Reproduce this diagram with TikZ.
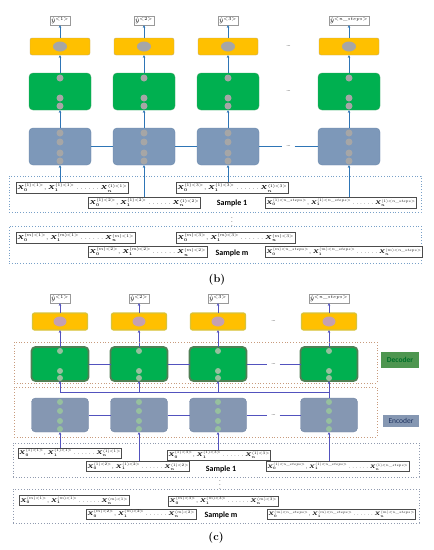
\RequirePackage{fix-cm}
\documentclass[tikz,border=0pt]{standalone}
\usepackage{amsmath,amssymb,bm}
\usepackage{fontspec}
\newfontfamily\carlito{Carlito}
\usetikzlibrary{arrows.meta,positioning,calc}
\definecolor{ygold}{RGB}{255,192,0}
\definecolor{ygoldline}{RGB}{190,170,110}
\definecolor{lgreen}{RGB}{0,176,80}
\definecolor{lgreenline}{RGB}{60,165,100}
\definecolor{lblue}{RGB}{125,152,185}
\definecolor{lblueline}{RGB}{105,135,170}
\definecolor{unitgray}{RGB}{166,166,166}
\definecolor{arrowblue}{RGB}{46,117,182}
\definecolor{sampline}{RGB}{120,160,200}
\definecolor{cyline}{RGB}{215,195,60}
\definecolor{cgreenline}{RGB}{78,128,84}
\definecolor{cblue}{RGB}{133,151,178}
\definecolor{cblueline}{RGB}{115,135,165}
\definecolor{cunit}{RGB}{150,192,158}
\definecolor{cpink}{RGB}{196,160,178}
\definecolor{arrowind}{RGB}{82,82,190}
\definecolor{brownline}{RGB}{200,155,125}
\definecolor{grayline}{RGB}{145,155,175}
\definecolor{declbl}{RGB}{78,150,80}
\definecolor{dectxt}{RGB}{0,110,40}
\definecolor{enctxt}{RGB}{30,50,95}
\newcommand{\xseq}[2]{$\bm{X_0}^{(#1)<#2>},\bm{X_1}^{(#1)<#2>}\ldots\ldots\bm{X_n}^{(#1)<#2>}$}
\tikzset{
  basebox/.style={rectangle,rounded corners=4pt,inner sep=0pt,outer sep=0pt,thin},
  outbox/.style={basebox,rounded corners=2pt,fill=ygold,draw=ygoldline,minimum width=60pt,minimum height=17pt},
  hidbox/.style={basebox,fill=lgreen,draw=lgreenline,minimum width=62pt,minimum height=37pt},
  encbox/.style={basebox,fill=lblue,draw=lblueline,minimum width=62pt,minimum height=37pt},
  outboxc/.style={basebox,rounded corners=2pt,fill=ygold,draw=cyline,line width=1.2pt,minimum width=55pt,minimum height=17pt},
  hidboxc/.style={basebox,fill=lgreen,draw=cgreenline,line width=1.8pt,minimum width=57pt,minimum height=34pt},
  encboxc/.style={basebox,fill=cblue,draw=cblueline,minimum width=57pt,minimum height=34pt},
  yhatlbl/.style={rectangle,draw=gray!80,fill=white,inner sep=1pt,outer sep=0pt,font=\fontsize{6.5}{7}\selectfont},
  xlbl/.style={rectangle,draw=black!70,fill=white,inner xsep=0.8pt,inner ysep=1.4pt,anchor=west,font=\fontsize{5.8}{7}\selectfont},
  xlbls/.style={xlbl,inner ysep=1.8pt,font=\fontsize{5.25}{6.5}\selectfont},
  xlblc/.style={xlbl,inner ysep=1.2pt,font=\fontsize{5.35}{6.5}\selectfont},
  xlblcs/.style={xlbl,inner ysep=1.5pt,font=\fontsize{4.95}{6}\selectfont},
  sampbox/.style={rectangle,draw=sampline,dotted,thick,inner sep=0pt},
  sampboxc/.style={rectangle,draw=grayline,dotted,thick,inner sep=0pt},
  partbox/.style={rectangle,draw=brownline,dotted,thick,inner sep=0pt},
  samptxt/.style={font=\carlito\bfseries\fontsize{8}{9}\selectfont},
  dotsnode/.style={inner sep=3.5pt,font=\fontsize{6}{7}\selectfont},
  caption/.style={font=\bfseries\fontsize{11}{13}\selectfont},
  unit/.style={fill=unitgray,draw=none},
  unitc/.style={fill=cunit,draw=none},
  arr/.style={->,>={Stealth[length=3pt,width=2.6pt]},color=arrowblue,line width=0.8pt},
  link/.style={color=arrowblue,line width=0.8pt},
  arrc/.style={->,>={Stealth[length=3pt,width=2.6pt]},color=arrowind,line width=0.8pt},
  linkc/.style={color=arrowind,line width=0.8pt}
}
\begin{document}
\begin{tikzpicture}[x=1pt,y=-1pt]
  \useasboundingbox (0,0) rectangle (434,550);

  \foreach \i/\x/\s in {1/60/1,2/144/2,3/228/3,4/349/n\_steps}{
    \node[outbox] (b-y\i) at (\x,46.5) {};
    \fill[unit] (b-y\i.center) ellipse (7pt and 5pt);
    \node[yhatlbl,above=13pt of b-y\i] (b-o\i) {$\hat{y}^{<\s>}$};
    \node[hidbox,below=18pt of b-y\i] (b-h\i) {};
    \node[encbox,below=18pt of b-h\i] (b-e\i) {};
    \foreach \d in {5pt,25pt,33pt} \fill[unit] ([yshift=-\d]b-h\i.north) circle (3.5pt);
    \foreach \d in {5pt,14pt,25pt,33pt} \fill[unit] ([yshift=-\d]b-e\i.north) circle (3.5pt);
    \draw[arr] (b-y\i) -- (b-o\i);
    \draw[arr] (b-h\i) -- (b-y\i);
    \draw[arr] (b-e\i) -- (b-h\i);
  }
  \node[dotsnode] (b-yd) at ($(b-y3.east)!0.5!(b-y4.west)$) {\ldots};
  \node[dotsnode] (b-hd) at ($(b-h3.east)!0.5!(b-h4.west)$) {\ldots};
  \node[dotsnode] (b-ed) at ($(b-e3.east)!0.5!(b-e4.west)$) {\ldots};
  \draw[link] (b-e1) -- (b-e2); \draw[link] (b-e2) -- (b-e3);
  \draw[link] (b-e3) -- (b-ed); \draw[link] (b-ed) -- (b-e4);

  \node[sampbox,minimum width=412pt,minimum height=36pt] (b-s1) at (215,194) {};
  \node[sampbox,minimum width=412pt,minimum height=37pt] (b-sm) at (215,244.5) {};
  \node[xlbl] (b-x11) at (16,188) {\xseq{1}{1}};
  \node[xlbl] (b-x12) at (88,202.5) {\xseq{1}{2}};
  \node[xlbl] (b-x13) at (176,188) {\xseq{1}{3}};
  \node[xlbls] (b-x14) at (265,202.5) {\xseq{1}{n\_steps}};
  \node[xlbl] (b-xm1) at (16,237.5) {\xseq{m}{1}};
  \node[xlbl] (b-xm2) at (88,252) {\xseq{m}{2}};
  \node[xlbl] (b-xm3) at (176,237.5) {\xseq{m}{3}};
  \node[xlbls] (b-xm4) at (265,252) {\xseq{m}{n\_steps}};
  \node[samptxt] (b-t1) at (232,203) {Sample 1};
  \node[samptxt] (b-tm) at (232,253) {Sample m};
  \node[font=\fontsize{7}{7}\selectfont] (b-vd) at (232,219) {$\vdots$};
  \foreach \i in {1,...,4} \draw[arr] (b-x1\i.north -| b-e\i) -- (b-e\i);
  \node[caption] (b-cap) at (217,280) {(b)};

  \foreach \i/\x/\s in {1/60/1,2/139/2,3/218/3,4/329/n\_steps}{
    \node[outboxc] (c-y\i) at (\x,321.5) {};
    \fill[cpink] (c-y\i.center) ellipse (6.5pt and 5pt);
    \node[yhatlbl,above=10pt of c-y\i] (c-o\i) {$\hat{y}^{<\s>}$};
    \node[hidboxc,below=17pt of c-y\i] (c-h\i) {};
    \node[encboxc,below=17pt of c-h\i] (c-e\i) {};
    \foreach \d in {4pt,24pt,31pt} \fill[unitc] ([yshift=-\d]c-h\i.north) circle (3pt);
    \foreach \d in {4pt,13pt,23pt,31pt} \fill[unitc] ([yshift=-\d]c-e\i.north) circle (3pt);
    \draw[arrc] (c-y\i) -- (c-o\i);
    \draw[arrc] (c-h\i) -- (c-y\i);
  }
  \node[dotsnode] (c-yd) at ($(c-y3.east)!0.5!(c-y4.west)$) {\ldots};
  \node[dotsnode] (c-hd) at ($(c-h3.east)!0.5!(c-h4.west)$) {\ldots};
  \node[dotsnode] (c-ed) at ($(c-e3.east)!0.5!(c-e4.west)$) {\ldots};
  \draw[linkc] (c-h1) -- (c-h2); \draw[linkc] (c-h2) -- (c-h3);
  \draw[linkc] (c-h3) -- (c-hd); \draw[linkc] (c-hd) -- (c-h4);
  \draw[linkc] (c-e1) -- (c-e2); \draw[linkc] (c-e2) -- (c-e3);
  \draw[linkc] (c-e3) -- (c-ed); \draw[linkc] (c-ed) -- (c-e4);

  \node[partbox,minimum width=363pt,minimum height=41pt] (c-dec) at (195.5,362.5) {};
  \node[partbox,minimum width=363pt,minimum height=50pt] (c-enc) at (195.5,412) {};
  \node[rectangle,fill=declbl,text=dectxt,minimum width=38pt,minimum height=16pt,inner sep=0pt,
        font=\carlito\bfseries\fontsize{7.5}{8}\selectfont] (c-dlbl) at (400,360) {Decoder};
  \node[rectangle,fill=cblue,text=enctxt,minimum width=36pt,minimum height=12pt,inner sep=0pt,
        font=\carlito\fontsize{7.5}{8}\selectfont] (c-elbl) at (401,421) {Encoder};

  \coordinate (c-bus) at (0,392);
  \draw[arrc] (c-e4) -- (c-h4);
  \draw[linkc] (c-h1.south |- c-bus) -- (c-h4.south |- c-bus);
  \foreach \i in {1,2,3} \draw[arrc] (c-h\i.south |- c-bus) -- (c-h\i);

  \node[sampboxc,minimum width=406pt,minimum height=34pt] (c-s1) at (216,460) {};
  \node[sampboxc,minimum width=406pt,minimum height=34pt] (c-sm) at (216,506) {};
  \node[xlblc] (c-x11) at (18,453) {\xseq{1}{1}};
  \node[xlblc] (c-x12) at (86,466.5) {\xseq{1}{2}};
  \node[xlblc] (c-x13) at (167,455) {\xseq{1}{3}};
  \node[xlblcs] (c-x14) at (266,466.5) {\xseq{1}{n\_steps}};
  \node[xlblc] (c-xm1) at (19,500.5) {\xseq{m}{1}};
  \node[xlblc] (c-xm2) at (86,514) {\xseq{m}{2}};
  \node[xlblc] (c-xm3) at (168,501) {\xseq{m}{3}};
  \node[xlblcs] (c-xm4) at (267,514) {\xseq{m}{n\_steps}};
  \node[samptxt] (c-t1) at (221,469) {Sample 1};
  \node[samptxt] (c-tm) at (221,515) {Sample m};
  \node[font=\fontsize{7}{7}\selectfont] (c-vd) at (220,482) {$\vdots$};
  \foreach \i in {1,...,4} \draw[arrc] (c-x1\i.north -| c-e\i) -- (c-e\i);
  \node[caption] (c-cap) at (216,538) {(c)};
\end{tikzpicture}
\end{document}
